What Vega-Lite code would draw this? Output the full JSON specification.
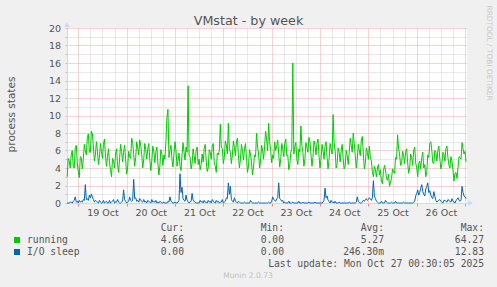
{
  "$schema": "https://vega.github.io/schema/vega-lite/v6.json",
  "background": "#f0f0f0",
  "padding": {"left": 6, "top": 5, "right": 12, "bottom": 12},
  "spacing": 6,
  "config": {
    "font": "DejaVu Sans",
    "view": {"stroke": null},
    "axis": {"labelFont": "DejaVu Sans", "titleFont": "DejaVu Sans", "labelColor": "#555555", "titleColor": "#555555", "titleFontWeight": "normal"}
  },
  "vconcat": [
    {
      "width": 400,
      "height": 175,
      "view": {"fill": "#ffffff", "stroke": null},
      "data": {"values": [
        {"t":"2025-10-18T18:30","r":3.0,"i":0},{"t":"2025-10-18T19:00","r":5.1,"i":0},{"t":"2025-10-18T19:30","r":4.8,"i":0},{"t":"2025-10-18T20:00","r":4.0,"i":0.1},{"t":"2025-10-18T20:30","r":5.5,"i":0.1},{"t":"2025-10-18T21:00","r":6.0,"i":0},{"t":"2025-10-18T21:30","r":4.2,"i":0.2},{"t":"2025-10-18T22:00","r":4.0,"i":0.3},{"t":"2025-10-18T22:30","r":6.3,"i":0.7},{"t":"2025-10-18T23:00","r":6.6,"i":0.1},{"t":"2025-10-18T23:30","r":4.6,"i":0.2},
        {"t":"2025-10-19T00:00","r":3.6,"i":0},{"t":"2025-10-19T00:30","r":2.9,"i":0.3},{"t":"2025-10-19T01:00","r":5.3,"i":0.1},{"t":"2025-10-19T01:30","r":5.2,"i":0.2},{"t":"2025-10-19T02:00","r":3.9,"i":0.1},{"t":"2025-10-19T02:30","r":5.0,"i":0.4},{"t":"2025-10-19T03:00","r":6.7,"i":0.3},{"t":"2025-10-19T03:30","r":6.0,"i":2.1},{"t":"2025-10-19T04:00","r":5.5,"i":0.4},{"t":"2025-10-19T04:30","r":7.5,"i":0.5},{"t":"2025-10-19T05:00","r":7.9,"i":0.3},{"t":"2025-10-19T05:30","r":5.8,"i":0.9},{"t":"2025-10-19T06:00","r":5.8,"i":0.6},{"t":"2025-10-19T06:30","r":8.2,"i":1.0},{"t":"2025-10-19T07:00","r":7.9,"i":0.7},{"t":"2025-10-19T07:30","r":6.4,"i":0.4},{"t":"2025-10-19T08:00","r":4.8,"i":0.1},{"t":"2025-10-19T08:30","r":5.5,"i":0.3},{"t":"2025-10-19T09:00","r":7.0,"i":0.2},{"t":"2025-10-19T09:30","r":6.0,"i":0.1},{"t":"2025-10-19T10:00","r":4.4,"i":0},{"t":"2025-10-19T10:30","r":5.2,"i":0.3},{"t":"2025-10-19T11:00","r":6.8,"i":0.1},{"t":"2025-10-19T11:30","r":5.9,"i":0},{"t":"2025-10-19T12:00","r":5.1,"i":0},{"t":"2025-10-19T12:30","r":6.7,"i":0.3},{"t":"2025-10-19T13:00","r":7.3,"i":0},{"t":"2025-10-19T13:30","r":5.4,"i":0.1},{"t":"2025-10-19T14:00","r":4.2,"i":0.2},{"t":"2025-10-19T14:30","r":5.3,"i":0},{"t":"2025-10-19T15:00","r":6.2,"i":0},{"t":"2025-10-19T15:30","r":4.6,"i":0.3},{"t":"2025-10-19T16:00","r":3.8,"i":0},{"t":"2025-10-19T16:30","r":3.0,"i":0.1},{"t":"2025-10-19T17:00","r":5.1,"i":0.2},{"t":"2025-10-19T17:30","r":4.8,"i":0.4},{"t":"2025-10-19T18:00","r":4.0,"i":0},{"t":"2025-10-19T18:30","r":5.6,"i":0.1},{"t":"2025-10-19T19:00","r":6.2,"i":0.1},{"t":"2025-10-19T19:30","r":4.4,"i":0.4},{"t":"2025-10-19T20:00","r":3.5,"i":0.1},{"t":"2025-10-19T20:30","r":5.0,"i":0},{"t":"2025-10-19T21:00","r":6.7,"i":0},{"t":"2025-10-19T21:30","r":5.9,"i":0.1},{"t":"2025-10-19T22:00","r":4.7,"i":0.2},{"t":"2025-10-19T22:30","r":5.8,"i":1.5},{"t":"2025-10-19T23:00","r":6.6,"i":0.4},{"t":"2025-10-19T23:30","r":5.0,"i":0.2},
        {"t":"2025-10-20T00:00","r":3.3,"i":0},{"t":"2025-10-20T00:30","r":4.0,"i":0.1},{"t":"2025-10-20T01:00","r":5.9,"i":0.2},{"t":"2025-10-20T01:30","r":5.3,"i":0.7},{"t":"2025-10-20T02:00","r":5.1,"i":0.3},{"t":"2025-10-20T02:30","r":7.4,"i":0.2},{"t":"2025-10-20T03:00","r":6.9,"i":0.3},{"t":"2025-10-20T03:30","r":5.6,"i":2.7},{"t":"2025-10-20T04:00","r":4.2,"i":0.5},{"t":"2025-10-20T04:30","r":5.2,"i":0.6},{"t":"2025-10-20T05:00","r":7.0,"i":0.2},{"t":"2025-10-20T05:30","r":6.3,"i":0.3},{"t":"2025-10-20T06:00","r":5.5,"i":0.1},{"t":"2025-10-20T06:30","r":7.2,"i":0.5},{"t":"2025-10-20T07:00","r":6.6,"i":0.3},{"t":"2025-10-20T07:30","r":5.5,"i":0.2},{"t":"2025-10-20T08:00","r":4.0,"i":0.1},{"t":"2025-10-20T08:30","r":5.0,"i":0.4},{"t":"2025-10-20T09:00","r":6.8,"i":0.1},{"t":"2025-10-20T09:30","r":6.1,"i":0.2},{"t":"2025-10-20T10:00","r":5.0,"i":0},{"t":"2025-10-20T10:30","r":6.2,"i":0.3},{"t":"2025-10-20T11:00","r":6.8,"i":0.2},{"t":"2025-10-20T11:30","r":5.0,"i":0.1},{"t":"2025-10-20T12:00","r":3.7,"i":0},{"t":"2025-10-20T12:30","r":4.8,"i":0.4},{"t":"2025-10-20T13:00","r":6.5,"i":0.1},{"t":"2025-10-20T13:30","r":5.9,"i":0.2},{"t":"2025-10-20T14:00","r":4.6,"i":0.1},{"t":"2025-10-20T14:30","r":5.8,"i":0.3},{"t":"2025-10-20T15:00","r":6.4,"i":0},{"t":"2025-10-20T15:30","r":4.6,"i":0.1},{"t":"2025-10-20T16:00","r":3.2,"i":0},{"t":"2025-10-20T16:30","r":4.2,"i":0.2},{"t":"2025-10-20T17:00","r":6.1,"i":0.1},{"t":"2025-10-20T17:30","r":5.6,"i":0},{"t":"2025-10-20T18:00","r":4.3,"i":0},{"t":"2025-10-20T18:30","r":5.5,"i":0.1},{"t":"2025-10-20T19:00","r":5.0,"i":0},{"t":"2025-10-20T19:30","r":7.0,"i":0},{"t":"2025-10-20T20:00","r":9.8,"i":0},{"t":"2025-10-20T20:30","r":10.7,"i":0.2},{"t":"2025-10-20T21:00","r":5.2,"i":0.1},{"t":"2025-10-20T21:30","r":6.0,"i":0.7},{"t":"2025-10-20T22:00","r":6.6,"i":0.2},{"t":"2025-10-20T22:30","r":5.0,"i":0.1},{"t":"2025-10-20T23:00","r":4.1,"i":0},{"t":"2025-10-20T23:30","r":5.6,"i":0},
        {"t":"2025-10-21T00:00","r":7.0,"i":0.1},{"t":"2025-10-21T00:30","r":6.0,"i":0},{"t":"2025-10-21T01:00","r":4.2,"i":0},{"t":"2025-10-21T01:30","r":4.8,"i":0.1},{"t":"2025-10-21T02:00","r":5.7,"i":0.3},{"t":"2025-10-21T02:30","r":4.2,"i":3.35},{"t":"2025-10-21T03:00","r":3.7,"i":1.2},{"t":"2025-10-21T03:30","r":5.5,"i":1.8},{"t":"2025-10-21T04:00","r":6.9,"i":0.5},{"t":"2025-10-21T04:30","r":5.8,"i":0.3},{"t":"2025-10-21T05:00","r":4.9,"i":0.2},{"t":"2025-10-21T05:30","r":6.4,"i":0.9},{"t":"2025-10-21T06:00","r":5.8,"i":0.3},{"t":"2025-10-21T06:30","r":13.4,"i":0.2},{"t":"2025-10-21T07:00","r":5.5,"i":0},{"t":"2025-10-21T07:30","r":5.2,"i":0.1},{"t":"2025-10-21T08:00","r":3.9,"i":0.2},{"t":"2025-10-21T08:30","r":4.5,"i":1.1},{"t":"2025-10-21T09:00","r":6.2,"i":0.3},{"t":"2025-10-21T09:30","r":5.4,"i":0.2},{"t":"2025-10-21T10:00","r":4.5,"i":0.1},{"t":"2025-10-21T10:30","r":6.0,"i":0},{"t":"2025-10-21T11:00","r":6.4,"i":0},{"t":"2025-10-21T11:30","r":4.4,"i":0},{"t":"2025-10-21T12:00","r":5.0,"i":0},{"t":"2025-10-21T12:30","r":3.8,"i":0.3},{"t":"2025-10-21T13:00","r":4.4,"i":0.1},{"t":"2025-10-21T13:30","r":5.6,"i":0.2},{"t":"2025-10-21T14:00","r":4.7,"i":0},{"t":"2025-10-21T14:30","r":6.2,"i":0.3},{"t":"2025-10-21T15:00","r":6.7,"i":0.1},{"t":"2025-10-21T15:30","r":4.8,"i":0.1},{"t":"2025-10-21T16:00","r":3.6,"i":0},{"t":"2025-10-21T16:30","r":4.0,"i":0.3},{"t":"2025-10-21T17:00","r":6.1,"i":0.1},{"t":"2025-10-21T17:30","r":5.8,"i":0.2},{"t":"2025-10-21T18:00","r":5.0,"i":0},{"t":"2025-10-21T18:30","r":6.5,"i":0.4},{"t":"2025-10-21T19:00","r":6.8,"i":0.2},{"t":"2025-10-21T19:30","r":4.6,"i":0.1},{"t":"2025-10-21T20:00","r":4.2,"i":0},{"t":"2025-10-21T20:30","r":3.5,"i":0.3},{"t":"2025-10-21T21:00","r":5.7,"i":0.1},{"t":"2025-10-21T21:30","r":5.5,"i":0.2},{"t":"2025-10-21T22:00","r":6.0,"i":0},{"t":"2025-10-21T22:30","r":9.0,"i":0.1},{"t":"2025-10-21T23:00","r":6.4,"i":0.1},{"t":"2025-10-21T23:30","r":6.2,"i":0.4},
        {"t":"2025-10-22T00:00","r":4.5,"i":0},{"t":"2025-10-22T00:30","r":5.2,"i":0.1},{"t":"2025-10-22T01:00","r":7.1,"i":0.2},{"t":"2025-10-22T01:30","r":6.6,"i":0.6},{"t":"2025-10-22T02:00","r":5.6,"i":0.5},{"t":"2025-10-22T02:30","r":9.1,"i":2.3},{"t":"2025-10-22T03:00","r":6.2,"i":1.0},{"t":"2025-10-22T03:30","r":5.8,"i":1.9},{"t":"2025-10-22T04:00","r":4.5,"i":0.4},{"t":"2025-10-22T04:30","r":5.5,"i":0.2},{"t":"2025-10-22T05:00","r":7.1,"i":0.1},{"t":"2025-10-22T05:30","r":6.3,"i":0.6},{"t":"2025-10-22T06:00","r":5.4,"i":0.2},{"t":"2025-10-22T06:30","r":7.0,"i":0.1},{"t":"2025-10-22T07:00","r":7.4,"i":0},{"t":"2025-10-22T07:30","r":5.4,"i":0.2},{"t":"2025-10-22T08:00","r":4.0,"i":0.1},{"t":"2025-10-22T08:30","r":5.0,"i":0},{"t":"2025-10-22T09:00","r":6.7,"i":0},{"t":"2025-10-22T09:30","r":6.0,"i":0},{"t":"2025-10-22T10:00","r":4.9,"i":0},{"t":"2025-10-22T10:30","r":6.2,"i":0.1},{"t":"2025-10-22T11:00","r":6.8,"i":0},{"t":"2025-10-22T11:30","r":5.1,"i":0},{"t":"2025-10-22T12:00","r":3.5,"i":0},{"t":"2025-10-22T12:30","r":4.2,"i":0},{"t":"2025-10-22T13:00","r":6.1,"i":0},{"t":"2025-10-22T13:30","r":5.6,"i":0.3},{"t":"2025-10-22T14:00","r":4.6,"i":0.1},{"t":"2025-10-22T14:30","r":3.2,"i":0},{"t":"2025-10-22T15:00","r":4.2,"i":0},{"t":"2025-10-22T15:30","r":5.5,"i":0},{"t":"2025-10-22T16:00","r":5.3,"i":0},{"t":"2025-10-22T16:30","r":8.0,"i":0},{"t":"2025-10-22T17:00","r":6.4,"i":0},{"t":"2025-10-22T17:30","r":5.6,"i":0.1},{"t":"2025-10-22T18:00","r":4.0,"i":0},{"t":"2025-10-22T18:30","r":4.8,"i":0},{"t":"2025-10-22T19:00","r":6.6,"i":0},{"t":"2025-10-22T19:30","r":6.0,"i":0},{"t":"2025-10-22T20:00","r":5.0,"i":0},{"t":"2025-10-22T20:30","r":6.5,"i":0},{"t":"2025-10-22T21:00","r":8.2,"i":0},{"t":"2025-10-22T21:30","r":7.2,"i":0},{"t":"2025-10-22T22:00","r":6.0,"i":0},{"t":"2025-10-22T22:30","r":9.1,"i":0.1},{"t":"2025-10-22T23:00","r":7.0,"i":0},{"t":"2025-10-22T23:30","r":6.0,"i":0},
        {"t":"2025-10-23T00:00","r":4.6,"i":0.2},{"t":"2025-10-23T00:30","r":5.5,"i":0.7},{"t":"2025-10-23T01:00","r":5.1,"i":0.4},{"t":"2025-10-23T01:30","r":7.0,"i":0.3},{"t":"2025-10-23T02:00","r":6.0,"i":0.2},{"t":"2025-10-23T02:30","r":6.5,"i":0.5},{"t":"2025-10-23T03:00","r":7.2,"i":0.6},{"t":"2025-10-23T03:30","r":5.6,"i":2.3},{"t":"2025-10-23T04:00","r":4.1,"i":0.5},{"t":"2025-10-23T04:30","r":5.0,"i":0.4},{"t":"2025-10-23T05:00","r":6.8,"i":0.2},{"t":"2025-10-23T05:30","r":6.2,"i":0.3},{"t":"2025-10-23T06:00","r":5.3,"i":0},{"t":"2025-10-23T06:30","r":6.8,"i":0.1},{"t":"2025-10-23T07:00","r":7.3,"i":0},{"t":"2025-10-23T07:30","r":5.4,"i":0},{"t":"2025-10-23T08:00","r":5.5,"i":0},{"t":"2025-10-23T08:30","r":3.8,"i":0.2},{"t":"2025-10-23T09:00","r":4.4,"i":0},{"t":"2025-10-23T09:30","r":5.8,"i":0},{"t":"2025-10-23T10:00","r":6.2,"i":0},{"t":"2025-10-23T10:30","r":16.0,"i":0.1},{"t":"2025-10-23T11:00","r":5.6,"i":0},{"t":"2025-10-23T11:30","r":6.4,"i":0},{"t":"2025-10-23T12:00","r":6.9,"i":0},{"t":"2025-10-23T12:30","r":5.0,"i":0},{"t":"2025-10-23T13:00","r":4.4,"i":0},{"t":"2025-10-23T13:30","r":6.2,"i":0.2},{"t":"2025-10-23T14:00","r":5.8,"i":0},{"t":"2025-10-23T14:30","r":8.8,"i":0},{"t":"2025-10-23T15:00","r":6.6,"i":0},{"t":"2025-10-23T15:30","r":5.8,"i":0.1},{"t":"2025-10-23T16:00","r":4.2,"i":0},{"t":"2025-10-23T16:30","r":5.0,"i":0},{"t":"2025-10-23T17:00","r":6.9,"i":0},{"t":"2025-10-23T17:30","r":6.4,"i":0},{"t":"2025-10-23T18:00","r":5.8,"i":0},{"t":"2025-10-23T18:30","r":7.5,"i":0.1},{"t":"2025-10-23T19:00","r":7.0,"i":0},{"t":"2025-10-23T19:30","r":5.6,"i":0},{"t":"2025-10-23T20:00","r":4.2,"i":0},{"t":"2025-10-23T20:30","r":5.2,"i":0},{"t":"2025-10-23T21:00","r":7.1,"i":0},{"t":"2025-10-23T21:30","r":6.6,"i":0.1},{"t":"2025-10-23T22:00","r":5.5,"i":0},{"t":"2025-10-23T22:30","r":6.8,"i":0},{"t":"2025-10-23T23:00","r":7.3,"i":0},{"t":"2025-10-23T23:30","r":5.4,"i":0},
        {"t":"2025-10-24T00:00","r":4.0,"i":0},{"t":"2025-10-24T00:30","r":5.0,"i":0},{"t":"2025-10-24T01:00","r":6.7,"i":0},{"t":"2025-10-24T01:30","r":6.0,"i":0.1},{"t":"2025-10-24T02:00","r":5.0,"i":0.3},{"t":"2025-10-24T02:30","r":6.5,"i":1.7},{"t":"2025-10-24T03:00","r":7.0,"i":0.6},{"t":"2025-10-24T03:30","r":5.2,"i":0.8},{"t":"2025-10-24T04:00","r":3.9,"i":0.3},{"t":"2025-10-24T04:30","r":5.0,"i":0.2},{"t":"2025-10-24T05:00","r":6.8,"i":0},{"t":"2025-10-24T05:30","r":6.2,"i":0.3},{"t":"2025-10-24T06:00","r":5.6,"i":0.1},{"t":"2025-10-24T06:30","r":10.1,"i":0.1},{"t":"2025-10-24T07:00","r":6.9,"i":0},{"t":"2025-10-24T07:30","r":6.0,"i":0.2},{"t":"2025-10-24T08:00","r":4.0,"i":0},{"t":"2025-10-24T08:30","r":4.5,"i":0},{"t":"2025-10-24T09:00","r":6.3,"i":0},{"t":"2025-10-24T09:30","r":5.8,"i":0.1},{"t":"2025-10-24T10:00","r":4.7,"i":0},{"t":"2025-10-24T10:30","r":6.0,"i":0},{"t":"2025-10-24T11:00","r":6.7,"i":0},{"t":"2025-10-24T11:30","r":5.0,"i":0},{"t":"2025-10-24T12:00","r":3.9,"i":0},{"t":"2025-10-24T12:30","r":4.2,"i":0},{"t":"2025-10-24T13:00","r":6.0,"i":0},{"t":"2025-10-24T13:30","r":5.4,"i":0},{"t":"2025-10-24T14:00","r":4.4,"i":0},{"t":"2025-10-24T14:30","r":5.8,"i":0.1},{"t":"2025-10-24T15:00","r":7.4,"i":0},{"t":"2025-10-24T15:30","r":6.6,"i":0},{"t":"2025-10-24T16:00","r":5.8,"i":0},{"t":"2025-10-24T16:30","r":8.0,"i":0},{"t":"2025-10-24T17:00","r":6.8,"i":0},{"t":"2025-10-24T17:30","r":5.4,"i":0},{"t":"2025-10-24T18:00","r":4.0,"i":0.1},{"t":"2025-10-24T18:30","r":5.0,"i":0.7},{"t":"2025-10-24T19:00","r":6.7,"i":0.2},{"t":"2025-10-24T19:30","r":6.0,"i":0.1},{"t":"2025-10-24T20:00","r":5.4,"i":0},{"t":"2025-10-24T20:30","r":7.2,"i":0},{"t":"2025-10-24T21:00","r":7.6,"i":0.1},{"t":"2025-10-24T21:30","r":5.6,"i":0.3},{"t":"2025-10-24T22:00","r":3.9,"i":0.2},{"t":"2025-10-24T22:30","r":4.5,"i":0.4},{"t":"2025-10-24T23:00","r":6.3,"i":0.5},{"t":"2025-10-24T23:30","r":5.8,"i":0.3},
        {"t":"2025-10-25T00:00","r":5.0,"i":0.4},{"t":"2025-10-25T00:30","r":6.5,"i":0.6},{"t":"2025-10-25T01:00","r":5.2,"i":0.5},{"t":"2025-10-25T01:30","r":4.8,"i":0.3},{"t":"2025-10-25T02:00","r":3.6,"i":0.6},{"t":"2025-10-25T02:30","r":3.0,"i":2.55},{"t":"2025-10-25T03:00","r":4.2,"i":0.8},{"t":"2025-10-25T03:30","r":3.8,"i":0.5},{"t":"2025-10-25T04:00","r":3.0,"i":0.2},{"t":"2025-10-25T04:30","r":4.0,"i":0.1},{"t":"2025-10-25T05:00","r":4.4,"i":0},{"t":"2025-10-25T05:30","r":3.2,"i":0},{"t":"2025-10-25T06:00","r":3.8,"i":0},{"t":"2025-10-25T06:30","r":2.5,"i":0.2},{"t":"2025-10-25T07:00","r":2.2,"i":0},{"t":"2025-10-25T07:30","r":3.6,"i":0},{"t":"2025-10-25T08:00","r":4.3,"i":0},{"t":"2025-10-25T08:30","r":3.8,"i":0.3},{"t":"2025-10-25T09:00","r":2.8,"i":0.1},{"t":"2025-10-25T09:30","r":2.6,"i":0},{"t":"2025-10-25T10:00","r":3.3,"i":0},{"t":"2025-10-25T10:30","r":1.9,"i":0},{"t":"2025-10-25T11:00","r":2.4,"i":0},{"t":"2025-10-25T11:30","r":2.8,"i":0.1},{"t":"2025-10-25T12:00","r":3.9,"i":0},{"t":"2025-10-25T12:30","r":3.5,"i":0},{"t":"2025-10-25T13:00","r":3.4,"i":0},{"t":"2025-10-25T13:30","r":5.2,"i":0.2},{"t":"2025-10-25T14:00","r":5.0,"i":0},{"t":"2025-10-25T14:30","r":7.8,"i":0},{"t":"2025-10-25T15:00","r":6.2,"i":0},{"t":"2025-10-25T15:30","r":5.6,"i":0},{"t":"2025-10-25T16:00","r":4.3,"i":0},{"t":"2025-10-25T16:30","r":4.5,"i":0},{"t":"2025-10-25T17:00","r":5.9,"i":0},{"t":"2025-10-25T17:30","r":5.4,"i":0.1},{"t":"2025-10-25T18:00","r":4.5,"i":0},{"t":"2025-10-25T18:30","r":5.8,"i":0},{"t":"2025-10-25T19:00","r":6.2,"i":0},{"t":"2025-10-25T19:30","r":4.6,"i":0},{"t":"2025-10-25T20:00","r":3.4,"i":0},{"t":"2025-10-25T20:30","r":4.0,"i":0},{"t":"2025-10-25T21:00","r":5.6,"i":0},{"t":"2025-10-25T21:30","r":5.2,"i":0},{"t":"2025-10-25T22:00","r":4.3,"i":0},{"t":"2025-10-25T22:30","r":6.0,"i":0.1},{"t":"2025-10-25T23:00","r":6.4,"i":0.2},{"t":"2025-10-25T23:30","r":4.6,"i":0.8},
        {"t":"2025-10-26T00:00","r":4.0,"i":1.1},{"t":"2025-10-26T00:30","r":3.0,"i":1.5},{"t":"2025-10-26T01:00","r":4.5,"i":0.9},{"t":"2025-10-26T01:30","r":4.8,"i":1.2},{"t":"2025-10-26T02:00","r":3.9,"i":1.7},{"t":"2025-10-26T02:30","r":5.2,"i":2.1},{"t":"2025-10-26T03:00","r":5.8,"i":1.3},{"t":"2025-10-26T03:30","r":4.0,"i":1.0},{"t":"2025-10-26T04:00","r":4.4,"i":0.8},{"t":"2025-10-26T04:30","r":3.0,"i":1.6},{"t":"2025-10-26T05:00","r":3.6,"i":1.9},{"t":"2025-10-26T05:30","r":5.5,"i":2.3},{"t":"2025-10-26T06:00","r":5.2,"i":1.2},{"t":"2025-10-26T06:30","r":6.8,"i":1.4},{"t":"2025-10-26T07:00","r":7.0,"i":0.9},{"t":"2025-10-26T07:30","r":6.0,"i":0.6},{"t":"2025-10-26T08:00","r":4.6,"i":0.5},{"t":"2025-10-26T08:30","r":4.5,"i":1.3},{"t":"2025-10-26T09:00","r":6.0,"i":0.8},{"t":"2025-10-26T09:30","r":5.8,"i":0.3},{"t":"2025-10-26T10:00","r":4.8,"i":0.1},{"t":"2025-10-26T10:30","r":6.0,"i":0.2},{"t":"2025-10-26T11:00","r":6.5,"i":0.3},{"t":"2025-10-26T11:30","r":5.0,"i":0.4},{"t":"2025-10-26T12:00","r":3.9,"i":0.2},{"t":"2025-10-26T12:30","r":4.5,"i":0.1},{"t":"2025-10-26T13:00","r":5.8,"i":0},{"t":"2025-10-26T13:30","r":5.6,"i":0.3},{"t":"2025-10-26T14:00","r":4.8,"i":0.3},{"t":"2025-10-26T14:30","r":6.2,"i":0.2},{"t":"2025-10-26T15:00","r":6.5,"i":0.1},{"t":"2025-10-26T15:30","r":5.2,"i":0.4},{"t":"2025-10-26T16:00","r":4.3,"i":0.3},{"t":"2025-10-26T16:30","r":4.0,"i":0.2},{"t":"2025-10-26T17:00","r":5.3,"i":0.1},{"t":"2025-10-26T17:30","r":4.8,"i":0.5},{"t":"2025-10-26T18:00","r":3.8,"i":0.2},{"t":"2025-10-26T18:30","r":2.5,"i":0.1},{"t":"2025-10-26T19:00","r":3.4,"i":0},{"t":"2025-10-26T19:30","r":3.5,"i":0.3},{"t":"2025-10-26T20:00","r":2.8,"i":0.4},{"t":"2025-10-26T20:30","r":4.0,"i":0.6},{"t":"2025-10-26T21:00","r":5.3,"i":0.3},{"t":"2025-10-26T21:30","r":5.2,"i":0.2},{"t":"2025-10-26T22:00","r":5.0,"i":0.3},{"t":"2025-10-26T22:30","r":6.9,"i":1.9},{"t":"2025-10-26T23:00","r":6.2,"i":1.2},{"t":"2025-10-26T23:30","r":5.6,"i":0.8},
        {"t":"2025-10-27T00:00","r":5.9,"i":0.7},{"t":"2025-10-27T00:30","r":4.66,"i":0.5}
      ]},
      "transform": [{"fold": ["r", "i"], "as": ["series", "value"]}],
      "encoding": {
        "color": {"field": "series", "type": "nominal", "scale": {"domain": ["r", "i"], "range": ["#00cc00", "#0066b3"]}, "legend": null}
      },
      "layer": [
        {
          "mark": {"type": "line", "strokeWidth": 1},
          "encoding": {
            "x": {"field": "t", "type": "temporal",
              "scale": {"domain": [{"year": 2025, "month": 10, "date": 18, "hours": 18, "minutes": 24}, {"year": 2025, "month": 10, "date": 27, "hours": 0, "minutes": 58}]},
              "axis": {
                "orient": "bottom", "title": null,
                "values": [
                  {"year": 2025, "month": 10, "date": 19, "hours": 0}, {"year": 2025, "month": 10, "date": 19, "hours": 6}, {"year": 2025, "month": 10, "date": 19, "hours": 12}, {"year": 2025, "month": 10, "date": 19, "hours": 18},
                  {"year": 2025, "month": 10, "date": 20, "hours": 0}, {"year": 2025, "month": 10, "date": 20, "hours": 6}, {"year": 2025, "month": 10, "date": 20, "hours": 12}, {"year": 2025, "month": 10, "date": 20, "hours": 18},
                  {"year": 2025, "month": 10, "date": 21, "hours": 0}, {"year": 2025, "month": 10, "date": 21, "hours": 6}, {"year": 2025, "month": 10, "date": 21, "hours": 12}, {"year": 2025, "month": 10, "date": 21, "hours": 18},
                  {"year": 2025, "month": 10, "date": 22, "hours": 0}, {"year": 2025, "month": 10, "date": 22, "hours": 6}, {"year": 2025, "month": 10, "date": 22, "hours": 12}, {"year": 2025, "month": 10, "date": 22, "hours": 18},
                  {"year": 2025, "month": 10, "date": 23, "hours": 0}, {"year": 2025, "month": 10, "date": 23, "hours": 6}, {"year": 2025, "month": 10, "date": 23, "hours": 12}, {"year": 2025, "month": 10, "date": 23, "hours": 18},
                  {"year": 2025, "month": 10, "date": 24, "hours": 0}, {"year": 2025, "month": 10, "date": 24, "hours": 6}, {"year": 2025, "month": 10, "date": 24, "hours": 12}, {"year": 2025, "month": 10, "date": 24, "hours": 18},
                  {"year": 2025, "month": 10, "date": 25, "hours": 0}, {"year": 2025, "month": 10, "date": 25, "hours": 6}, {"year": 2025, "month": 10, "date": 25, "hours": 12}, {"year": 2025, "month": 10, "date": 25, "hours": 18},
                  {"year": 2025, "month": 10, "date": 26, "hours": 0}, {"year": 2025, "month": 10, "date": 26, "hours": 6}, {"year": 2025, "month": 10, "date": 26, "hours": 12}, {"year": 2025, "month": 10, "date": 26, "hours": 18},
                  {"year": 2025, "month": 10, "date": 27, "hours": 0}
                ],
                "labelExpr": "hours(datum.value) == 12 ? timeFormat(datum.value, '%d %b') : ''",
                "labelFontSize": 9.5, "labelOverlap": false, "labelFlush": false, "labelPadding": 1,
                "tickSize": 3,
                "tickColor": {"condition": {"test": "hours(datum.value) == 0", "value": "#e88a8a"}, "value": "transparent"},
                "grid": true,
                "gridColor": {"condition": {"test": "hours(datum.value) == 0", "value": "#eaa8a8"}, "value": "#d2d2d2"},
                "gridDash": [1, 1],
                "domainColor": "#cfd6f8"
              }
            },
            "y": {"field": "value", "type": "quantitative",
              "scale": {"domain": [0, 20], "nice": false, "zero": false},
              "axis": {
                "orient": "left",
                "values": [0,1,2,3,4,5,6,7,8,9,10,11,12,13,14,15,16,17,18,19,20],
                "labelExpr": "datum.value % 2 == 0 ? datum.label : ''",
                "labelFontSize": 9.5, "labelOverlap": false, "labelPadding": 4.5,
                "tickSize": 2, "tickColor": "#c0c0c0",
                "grid": true,
                "gridColor": {"condition": {"test": "datum.value % 2 == 0", "value": "#eaa8a8"}, "value": "#d2d2d2"},
                "gridDash": [1, 1],
                "domainColor": "#cfd6f8",
                "title": "process states", "titleFontSize": 10.5,
                "titleX": -55.5, "titleY": 86, "titleAngle": 270, "titleAlign": "center", "titleBaseline": "middle"
              }
            }
          }
        },
        {
          "mark": {"type": "line", "opacity": 0},
          "encoding": {
            "x": {"field": "t", "type": "temporal",
              "scale": {"domain": [{"year": 2025, "month": 10, "date": 18, "hours": 18, "minutes": 24}, {"year": 2025, "month": 10, "date": 27, "hours": 0, "minutes": 58}]},
              "axis": {"orient": "top", "labels": false, "ticks": false, "domain": false, "grid": false,
                "title": "VMstat - by week", "titleFontSize": 12.7, "titleColor": "#555555",
                "titleX": 181, "titleY": -3.5, "titleAlign": "center", "titleBaseline": "alphabetic", "titleAngle": 0}
            },
            "y": {"field": "value", "type": "quantitative",
              "scale": {"domain": [0, 20], "nice": false, "zero": false},
              "axis": {"orient": "right", "labels": false, "ticks": false, "domain": false, "grid": false,
                "title": "RRDTOOL / TOBI OETIKER", "titleFontSize": 7.4, "titleColor": "#c8c8c8",
                "titleX": 21.5, "titleY": -23, "titleAngle": 90, "titleAlign": "left", "titleBaseline": "middle"}
            }
          }
        },
        {
          "data": {"values": [{"at": "2025-10-18T18:24", "v": 20}]},
          "mark": {"type": "point", "shape": "triangle-up", "filled": true, "size": 32, "opacity": 1, "yOffset": -3.5},
          "encoding": {
            "x": {"field": "at", "type": "temporal", "scale": {"domain": [{"year": 2025, "month": 10, "date": 18, "hours": 18, "minutes": 24}, {"year": 2025, "month": 10, "date": 27, "hours": 0, "minutes": 58}]}, "axis": null},
            "y": {"field": "v", "type": "quantitative", "scale": {"domain": [0, 20], "nice": false, "zero": false}, "axis": null},
            "color": {"value": "#cfd6f8"}
          }
        },
        {
          "data": {"values": [{"at": "2025-10-27T00:58", "v": 0}]},
          "mark": {"type": "point", "shape": "triangle-right", "filled": true, "size": 32, "opacity": 1, "xOffset": 3.5},
          "encoding": {
            "x": {"field": "at", "type": "temporal", "scale": {"domain": [{"year": 2025, "month": 10, "date": 18, "hours": 18, "minutes": 24}, {"year": 2025, "month": 10, "date": 27, "hours": 0, "minutes": 58}]}, "axis": null},
            "y": {"field": "v", "type": "quantitative", "scale": {"domain": [0, 20], "nice": false, "zero": false}, "axis": null},
            "color": {"value": "#cfd6f8"}
          }
        }
      ],
      "resolve": {"scale": {"x": "independent", "y": "independent"}, "axis": {"x": "independent", "y": "independent"}}
    },
    {
      "width": 400,
      "height": 48,
      "view": {"stroke": null},
      "encoding": {
        "x": {"field": "col", "type": "nominal", "scale": {"type": "point", "domain": ["label", "cur", "min", "avg", "max"], "padding": 0}, "axis": null},
        "y": {"field": "line", "type": "ordinal", "scale": {"type": "point", "domain": [1, 2, 3, 4, 5], "padding": 0}, "axis": null}
      },
      "layer": [
        {
          "data": {"values": [
            {"line": 1, "col": "cur", "text": "Cur:\u00a0\u00a0"},
            {"line": 1, "col": "min", "text": "Min:\u00a0\u00a0"},
            {"line": 1, "col": "avg", "text": "Avg:\u00a0\u00a0"},
            {"line": 1, "col": "max", "text": "Max:\u00a0\u00a0"},
            {"line": 2, "col": "cur", "text": "4.66\u00a0"},
            {"line": 2, "col": "min", "text": "0.00\u00a0"},
            {"line": 2, "col": "avg", "text": "5.27\u00a0"},
            {"line": 2, "col": "max", "text": "64.27\u00a0"},
            {"line": 3, "col": "cur", "text": "0.00\u00a0"},
            {"line": 3, "col": "min", "text": "0.00\u00a0"},
            {"line": 3, "col": "avg", "text": "246.30m"},
            {"line": 3, "col": "max", "text": "12.83\u00a0"},
            {"line": 4, "col": "max", "text": "Last update: Mon Oct 27 00:30:05 2025"}
          ]},
          "mark": {"type": "text", "font": "DejaVu Sans Mono", "fontSize": 9.7, "color": "#555555", "align": "right", "baseline": "middle", "dx": 17},
          "encoding": {"text": {"field": "text"}}
        },
        {
          "data": {"values": [
            {"line": 2, "col": "label", "text": "running"},
            {"line": 3, "col": "label", "text": "I/O sleep"}
          ]},
          "mark": {"type": "text", "font": "DejaVu Sans Mono", "fontSize": 9.7, "color": "#555555", "align": "left", "baseline": "middle", "dx": -40},
          "encoding": {"text": {"field": "text"}}
        },
        {
          "data": {"values": [
            {"line": 2, "col": "label", "series": "r"},
            {"line": 3, "col": "label", "series": "i"}
          ]},
          "mark": {"type": "square", "size": 36, "opacity": 1, "xOffset": -50},
          "encoding": {"color": {"field": "series", "type": "nominal", "scale": {"domain": ["r", "i"], "range": ["#00cc00", "#0066b3"]}, "legend": null}}
        },
        {
          "data": {"values": [{"line": 5, "col": "min", "text": "Munin 2.0.73"}]},
          "mark": {"type": "text", "font": "DejaVu Sans", "fontSize": 7.6, "color": "#c0c0c0", "align": "center", "baseline": "middle", "dx": -19},
          "encoding": {"text": {"field": "text"}}
        }
      ]
    }
  ]
}
